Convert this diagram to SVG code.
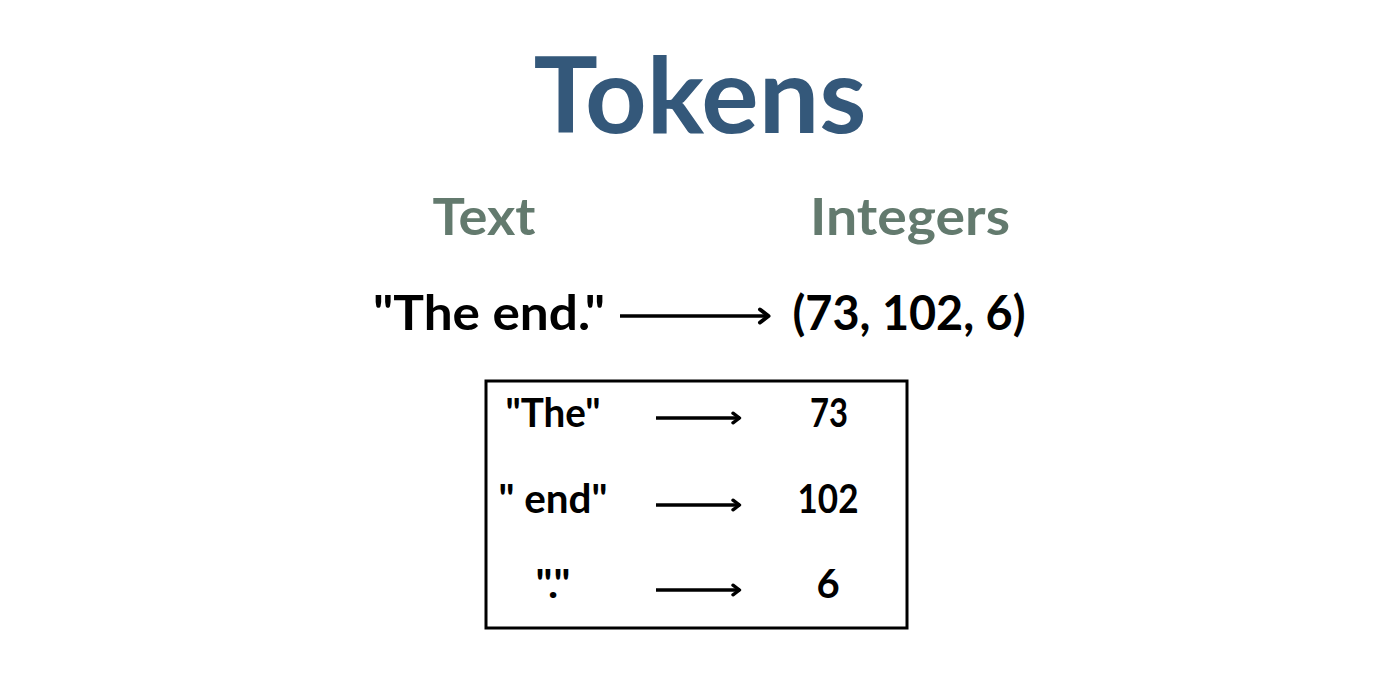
<svg xmlns="http://www.w3.org/2000/svg" width="1400" height="700" viewBox="0 0 1400 700">
<style>
text{font-family:"Lato","Noto Sans","DejaVu Sans",sans-serif;font-weight:bold;text-anchor:middle}
.title{font-size:106px;fill:#34587a}
.head{font-size:52px;fill:#637a6e}
.main{font-size:48px;fill:#000}
.row{font-size:40px;fill:#000}
.arr{stroke:#000;stroke-width:3.5;fill:none}
</style>
<defs>
<marker id="ah" viewBox="0 0 16 18" refX="13" refY="9" markerWidth="16" markerHeight="18" orient="auto" markerUnits="userSpaceOnUse">
<path d="M4,2.5 L12.5,9 L4,15.5" fill="none" stroke="#000" stroke-width="4" stroke-linecap="round" stroke-linejoin="round"/>
</marker>
<marker id="ahs" viewBox="0 0 14 14" refX="11" refY="7" markerWidth="14" markerHeight="14" orient="auto" markerUnits="userSpaceOnUse">
<path d="M4,2.2 L10.5,7 L4,11.8" fill="none" stroke="#000" stroke-width="3.4" stroke-linecap="round" stroke-linejoin="round"/>
</marker>
</defs>
<rect width="1400" height="700" fill="#fff"/>
<g id="title"><text class="title" x="700" y="133" textLength="333" lengthAdjust="spacingAndGlyphs">Tokens</text></g>
<g id="head-text"><text class="head" x="484" y="235" textLength="103" lengthAdjust="spacingAndGlyphs">Text</text></g>
<g id="head-int"><text class="head" x="910" y="235" textLength="200" lengthAdjust="spacingAndGlyphs">Integers</text></g>
<g id="src"><text class="main" x="489" y="330" textLength="232" lengthAdjust="spacingAndGlyphs">"The end."</text></g>
<g id="dst"><text class="main" x="909" y="330" textLength="233" lengthAdjust="spacingAndGlyphs">(73, 102, 6)</text></g>
<g id="table">
<rect x="486" y="381" width="421" height="247" fill="none" stroke="#000" stroke-width="3"/>
<text class="row" x="553" y="427" textLength="95" lengthAdjust="spacingAndGlyphs">"The"</text>
<text class="row" x="553" y="513" textLength="109" lengthAdjust="spacingAndGlyphs">" end"</text>
<text class="row" x="553" y="598" textLength="35" lengthAdjust="spacingAndGlyphs">"."</text>
<text class="row" x="829" y="427" textLength="38" lengthAdjust="spacingAndGlyphs">73</text>
<text class="row" x="828" y="513" textLength="61" lengthAdjust="spacingAndGlyphs">102</text>
<text class="row" x="828" y="598">6</text>
</g>
<g id="connectors">
<line class="arr" x1="620" y1="316" x2="769" y2="316" marker-end="url(#ah)"/>
<line class="arr" x1="656" y1="418" x2="740" y2="418" marker-end="url(#ahs)"/>
<line class="arr" x1="656" y1="505" x2="740" y2="505" marker-end="url(#ahs)"/>
<line class="arr" x1="656" y1="590" x2="740" y2="590" marker-end="url(#ahs)"/>
</g>
</svg>
